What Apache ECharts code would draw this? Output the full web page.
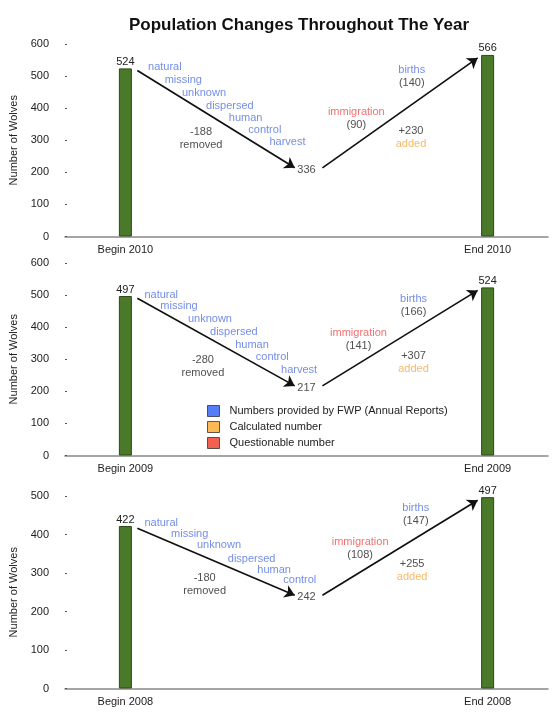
<!DOCTYPE html>
<html>
<head>
<meta charset="utf-8">
<title>Population Changes Throughout The Year</title>
<script src="https://cdn.jsdelivr.net/npm/echarts@6/dist/echarts.min.js"></script>
<style>
  html, body { margin: 0; padding: 0; background: #fff; }
  #chart { width: 559px; height: 716px; }
</style>
</head>
<body>
<div id="chart"></div>
<script>
// panels top to bottom
var years = ['2010', '2009', '2008']
var beginCounts = [524, 497, 422]
var endCounts = [566, 524, 497]
var lowCounts = [336, 217, 242]
// where the two arrows meet (the 2010 turn is drawn lower than its printed value)
var lowLevels = [214, 217, 242]
var removedCounts = [188, 280, 180]
var immigrationCounts = [90, 141, 108]
var birthCounts = [140, 166, 147]
var addedCounts = [230, 307, 255]
var causeNames = [
  ['natural', 'missing', 'unknown', 'dispersed', 'human', 'control', 'harvest'],
  ['natural', 'missing', 'unknown', 'dispersed', 'human', 'control', 'harvest'],
  ['natural', 'missing', 'unknown', 'dispersed', 'human', 'control']
]
var yMax = [600, 600, 500]
var legendNames = ['Numbers provided by FWP (Annual Reports)', 'Calculated number', 'Questionable number']
var legendColors = ['#2c5cf6', '#fba82c', '#ee3a24']

var FONT = '"Liberation Sans", Arial, Helvetica, sans-serif'
var BLUE = '#5070e0'
var RED = '#ef4b4b'
var ORANGE = '#f5a742'
var INK = '#222'
var gridTops = [44, 263, 496]
var gridH = 192.5

// text spots in data units (x: 1 = begin bar, 2 = turn, 3 = end bar)
var causeSpots = [
  [[1.218, 529], [1.320, 489], [1.434, 448], [1.577, 407], [1.664, 370], [1.770, 332], [1.895, 295]],
  [[1.198, 501], [1.296, 467], [1.467, 424], [1.599, 386], [1.699, 344], [1.811, 306], [1.959, 267]],
  [[1.198, 431], [1.355, 402], [1.517, 373], [1.697, 336], [1.821, 309], [1.963, 281]]
]
var removedSpots = [[1.418, 304], [1.428, 279], [1.438, 270]]
var immigrationSpots = [[2.275, 368], [2.287, 362], [2.296, 365]]
var birthSpots = [[2.581, 498], [2.591, 469], [2.603, 452]]
var addedSpots = [[2.577, 309], [2.591, 290], [2.583, 306]]

var chart = echarts.init(document.getElementById('chart'))

function pxToValue(i, px) {
  return px * yMax[i] / gridH
}

function noteItem(spot, text, rich) {
  return {
    value: spot,
    label: { formatter: text, rich: rich }
  }
}

var rich = {
  k: { color: INK, fontSize: 11, fontFamily: FONT, lineHeight: 13 },
  b: { color: BLUE, fontSize: 11, fontFamily: FONT, lineHeight: 13 },
  r: { color: RED, fontSize: 11, fontFamily: FONT, lineHeight: 14 },
  o: { color: ORANGE, fontSize: 11, fontFamily: FONT, lineHeight: 13 }
}

var grids = []
var xAxes = []
var yAxes = []
var series = []

years.forEach(function(year, i) {
  grids.push({ left: 65, right: 11, top: gridTops[i], height: gridH })
  xAxes.push({
    type: 'value',
    gridIndex: i,
    min: 2 / 3,
    max: 10 / 3,
    axisLine: { show: true, onZero: false, lineStyle: { color: '#888', width: 1.5 } },
    axisTick: { show: false },
    splitLine: { show: false },
    axisLabel: {
      customValues: [1, 3],
      margin: 8,
      fontSize: 11,
      color: INK,
      fontFamily: FONT,
      formatter: function(v) {
        return (v < 2 ? 'Begin ' : 'End ') + year
      }
    }
  })
  yAxes.push({
    type: 'value',
    gridIndex: i,
    min: 0,
    max: yMax[i],
    interval: 100,
    name: 'Number of Wolves',
    nameLocation: 'middle',
    nameGap: 45,
    nameTextStyle: { fontSize: 11, color: INK, fontFamily: FONT },
    axisLine: { show: false },
    axisTick: { show: true, inside: true, length: 2, lineStyle: { color: '#555' } },
    splitLine: { show: false },
    axisLabel: { margin: 16, fontSize: 11, color: INK, fontFamily: FONT }
  })

  series.push({
    type: 'bar',
    xAxisIndex: i,
    yAxisIndex: i,
    barWidth: 13,
    silent: true,
    data: [[1, beginCounts[i]], [3, endCounts[i]]],
    itemStyle: { color: '#4a792a', borderColor: '#2c4a17', borderWidth: 1 },
    label: { show: true, position: 'top', distance: 1, color: INK, fontSize: 11, fontFamily: FONT }
  })

  var notes = []
  causeNames[i].forEach(function(name, j) {
    notes.push(noteItem(causeSpots[i][j], '{b|' + name + '}', rich))
  })
  notes.push(noteItem(removedSpots[i], '{k|-' + removedCounts[i] + '}\n{k|removed}', rich))
  notes.push(noteItem(immigrationSpots[i], '{r|immigration}\n{k|(' + immigrationCounts[i] + ')}', rich))
  notes.push(noteItem(birthSpots[i], '{b|births}\n{k|(' + birthCounts[i] + ')}', rich))
  notes.push(noteItem(addedSpots[i], '{k|+' + addedCounts[i] + '}\n{o|added}', rich))
  notes.push({
    value: [2, lowLevels[i]],
    label: { formatter: '{k|' + lowCounts[i] + '}', rich: rich, offset: [0, 2] }
  })

  series.push({
    type: 'scatter',
    xAxisIndex: i,
    yAxisIndex: i,
    symbolSize: 0,
    silent: true,
    data: notes,
    label: { show: true, position: 'inside', align: 'center', verticalAlign: 'middle' },
    markLine: {
      silent: true,
      symbol: ['none', 'arrow'],
      symbolSize: 10,
      label: { show: false },
      lineStyle: { color: '#111', width: 1.7, type: 'solid' },
      emphasis: { disabled: true },
      data: [
        [
          { coord: [1.066, beginCounts[i] - pxToValue(i, 2.2)] },
          { coord: [1.935, lowLevels[i]] }
        ],
        [
          { coord: [2.088, lowLevels[i]] },
          { coord: [2.945, endCounts[i] - pxToValue(i, 3)] }
        ]
      ]
    }
  })
})

legendNames.forEach(function(name, k) {
  series.push({
    type: 'scatter',
    name: name,
    xAxisIndex: 1,
    yAxisIndex: 1,
    data: [],
    itemStyle: { color: legendColors[k] }
  })
})

chart.setOption({
  animation: false,
  title: {
    text: 'Population Changes Throughout The Year',
    left: 129,
    top: 17,
    padding: 0,
    textStyle: { fontSize: 17, fontWeight: 'bold', color: '#111', fontFamily: FONT }
  },
  legend: {
    orient: 'vertical',
    left: 207,
    top: 405,
    padding: 0,
    itemWidth: 12,
    itemHeight: 11,
    itemGap: 4,
    icon: 'rect',
    selectedMode: false,
    itemStyle: { borderColor: '#333', borderWidth: 1 },
    textStyle: { fontSize: 11, color: INK, fontFamily: FONT, padding: [0, 0, 0, 5] },
    data: legendNames
  },
  grid: grids,
  xAxis: xAxes,
  yAxis: yAxes,
  series: series
})
</script>
</body>
</html>
